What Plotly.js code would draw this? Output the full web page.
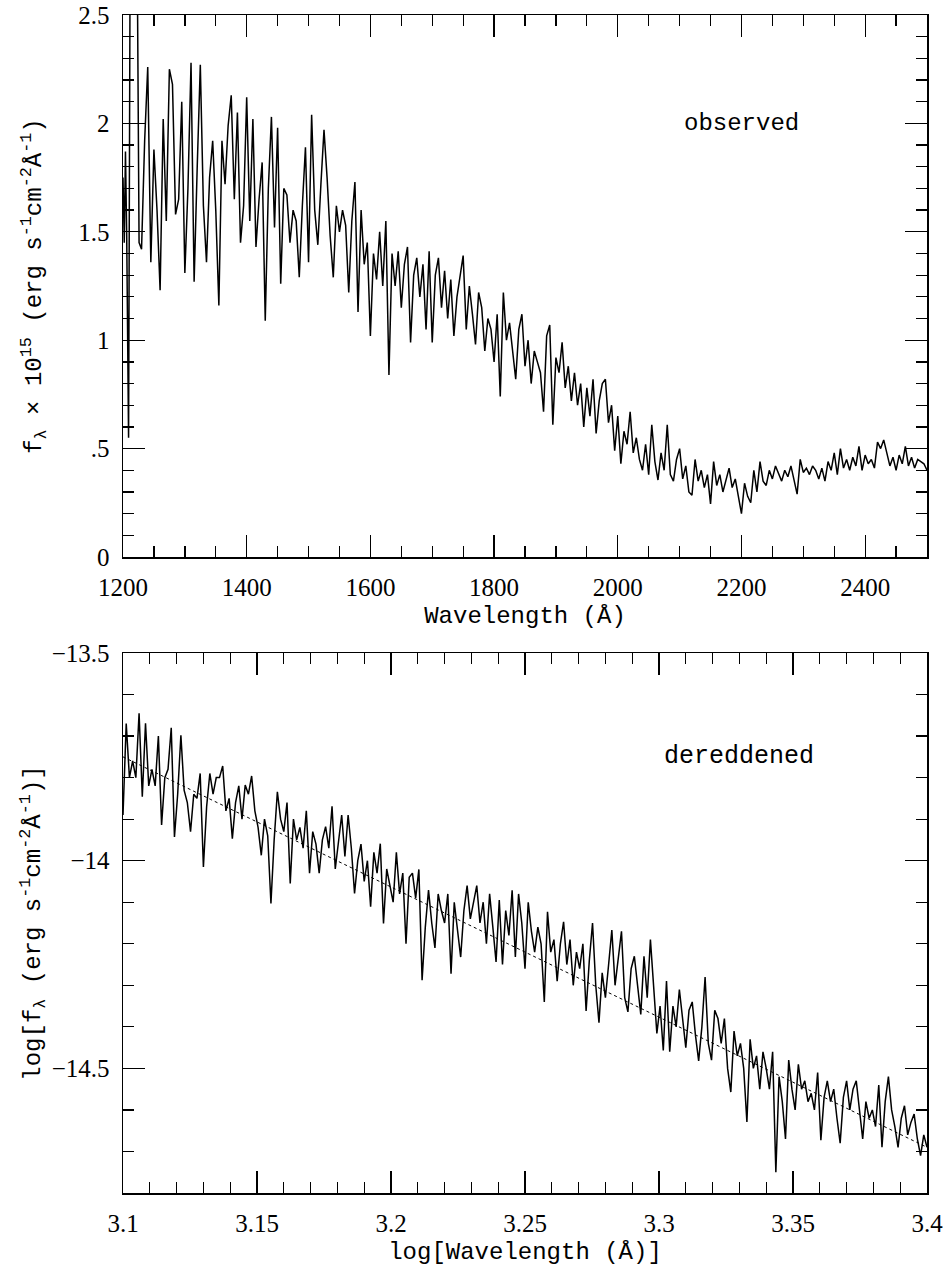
<!DOCTYPE html>
<html>
<head>
<meta charset="utf-8">
<script src="https://cdn.plot.ly/plotly-3.0.1.min.js"></script>
<style>html,body{margin:0;padding:0;background:#fff;}#chart{width:948px;height:1267px;}</style>
</head>
<body>
<div id="chart"></div>
<script>
// ---------- Observed spectrum (top panel) ----------
// Lyman-alpha region, explicit wavelengths (Å)
const lyaWave = [1200, 1202, 1204, 1206, 1209, 1212, 1222, 1226];
const lyaFlux = [1.75, 1.45, 1.87, 1.48, 0.55, 3.2, 3.2, 1.45];
// Remaining spectrum sampled every 5 Å from 1230 Å to 2500 Å
const obsStart = 1230, obsStep = 5;
const obsFlux = [
  1.42, 1.92, 2.26, 1.36, 1.88, 1.60, 1.23, 2.02, 1.55, 2.25,
  2.18, 1.58, 1.65, 2.10, 1.31, 1.70, 2.28, 1.27, 1.80, 2.27,
  1.62, 1.36, 1.75, 1.92, 1.60, 1.16, 1.92, 1.72, 1.99, 2.13,
  1.65, 2.05, 1.45, 1.62, 2.12, 1.55, 2.02, 1.43, 1.65, 1.82,
  1.09, 1.70, 2.03, 1.52, 1.98, 1.26, 1.70, 1.67, 1.45, 1.60,
  1.55, 1.29, 1.62, 1.89, 1.36, 2.04, 1.60, 1.44, 1.72, 1.97,
  1.75, 1.48, 1.29, 1.62, 1.50, 1.60, 1.53, 1.22, 1.55, 1.73,
  1.13, 1.60, 1.35, 1.45, 1.02, 1.40, 1.28, 1.50, 1.25, 1.55,
  0.84, 1.40, 1.25, 1.41, 1.15, 1.35, 1.43, 0.99, 1.30, 1.38,
  1.20, 1.35, 1.05, 1.41, 0.99, 1.30, 1.38, 1.15, 1.32, 1.10,
  1.28, 1.02, 1.20, 1.30, 1.39, 1.05, 1.25, 1.12, 0.98, 1.22,
  1.15, 0.95, 1.10, 1.05, 0.90, 1.12, 0.74, 1.22, 1.00, 1.08,
  0.95, 0.82, 1.05, 1.12, 0.88, 1.00, 0.80, 0.95, 0.90, 0.85,
  0.67, 1.02, 1.07, 0.61, 0.92, 0.85, 0.99, 0.78, 0.88, 0.72,
  0.85, 0.70, 0.80, 0.60, 0.78, 0.65, 0.82, 0.57, 0.72, 0.80,
  0.82, 0.62, 0.70, 0.49, 0.65, 0.43, 0.58, 0.52, 0.67, 0.48,
  0.55, 0.45, 0.40, 0.52, 0.38, 0.61, 0.44, 0.355, 0.48, 0.40,
  0.61, 0.38, 0.35, 0.45, 0.50, 0.36, 0.42, 0.30, 0.285, 0.45,
  0.35, 0.40, 0.32, 0.38, 0.245, 0.44, 0.33, 0.38, 0.30, 0.36,
  0.41, 0.32, 0.36, 0.28, 0.20, 0.34, 0.28, 0.25, 0.40, 0.30,
  0.44, 0.35, 0.33, 0.40, 0.36, 0.42, 0.38, 0.35, 0.40, 0.37,
  0.42, 0.36, 0.29, 0.45, 0.39, 0.41, 0.38, 0.42, 0.40, 0.36,
  0.41, 0.35, 0.44, 0.40, 0.48, 0.38, 0.50, 0.41, 0.45, 0.40,
  0.46, 0.42, 0.51, 0.40, 0.47, 0.43, 0.45, 0.41, 0.53, 0.50,
  0.54, 0.48, 0.42, 0.46, 0.40, 0.47, 0.43, 0.51, 0.42, 0.46,
  0.41, 0.45, 0.44, 0.43, 0.40
];
const obsWave = obsFlux.map((_, i) => obsStart + i * obsStep);

// ---------- Dereddened spectrum (bottom panel) ----------
const logStart = 3.1, logStep = 0.0012;
const logFlux = [
  -13.89, -13.67, -13.80, -13.76, -13.80, -13.645, -13.846, -13.669, -13.82, -13.78,
  -13.82, -13.70, -13.914, -13.80, -13.78, -13.68, -13.943, -13.84, -13.698, -13.83,
  -13.86, -13.93, -13.84, -13.85, -13.79, -14.015, -13.87, -13.79, -13.84, -13.80,
  -13.80, -13.772, -13.88, -13.85, -13.947, -13.86, -13.82, -13.90, -13.818, -13.84,
  -13.796, -13.88, -13.92, -13.987, -13.90, -13.94, -14.103, -13.95, -13.834, -13.90,
  -13.93, -13.86, -14.055, -13.90, -13.95, -13.92, -13.97, -13.88, -14.03, -13.93,
  -13.96, -14.03, -13.95, -13.918, -13.97, -13.869, -14.02, -13.95, -13.89, -13.99,
  -13.89, -13.97, -14.079, -14.00, -13.96, -14.05, -14.00, -14.111, -13.98, -14.03,
  -13.959, -14.151, -14.02, -14.06, -14.10, -13.98, -14.08, -14.03, -14.20, -14.04,
  -14.03, -14.09, -14.021, -14.288, -14.16, -14.071, -14.15, -14.21, -14.08, -14.12,
  -14.15, -14.08, -14.272, -14.10, -14.16, -14.232, -14.12, -14.06, -14.14, -14.10,
  -14.06, -14.15, -14.10, -14.20, -14.08, -14.16, -14.244, -14.095, -14.25, -14.12,
  -14.18, -14.071, -14.232, -14.08, -14.15, -14.26, -14.10, -14.17, -14.22, -14.16,
  -14.20, -14.34, -14.123, -14.22, -14.19, -14.29, -14.20, -14.147, -14.25, -14.19,
  -14.30, -14.22, -14.26, -14.20, -14.362, -14.24, -14.15, -14.30, -14.39, -14.27,
  -14.33, -14.25, -14.167, -14.30, -14.24, -14.17, -14.33, -14.364, -14.26, -14.23,
  -14.30, -14.37, -14.23, -14.33, -14.19, -14.30, -14.416, -14.35, -14.457, -14.29,
  -14.46, -14.35, -14.40, -14.31, -14.38, -14.45, -14.36, -14.34, -14.42, -14.482,
  -14.40, -14.28, -14.44, -14.48, -14.36, -14.38, -14.44, -14.38, -14.50, -14.557,
  -14.41, -14.47, -14.44, -14.50, -14.629, -14.43, -14.50, -14.47, -14.55, -14.46,
  -14.50, -14.55, -14.46, -14.75, -14.52, -14.58, -14.67, -14.48, -14.55, -14.60,
  -14.49, -14.55, -14.53, -14.58, -14.56, -14.60, -14.51, -14.673, -14.57, -14.53,
  -14.58, -14.55, -14.62, -14.68, -14.57, -14.53, -14.60, -14.55, -14.53, -14.60,
  -14.67, -14.58, -14.62, -14.60, -14.64, -14.54, -14.69, -14.58, -14.52, -14.60,
  -14.64, -14.69, -14.62, -14.59, -14.66, -14.63, -14.61, -14.67, -14.71, -14.66,
  -14.69
];
const logWave = logFlux.map((_, i) => +(logStart + i * logStep).toFixed(4));

// Power-law fit (dotted line) end points
const fitLogWave = [3.1, 3.4];
const fitLogFlux = [-13.75, -14.69];

// Tick labels
const topYTickVals = [0, 0.5, 1, 1.5, 2, 2.5];
const topYTickText = ['0', '.5', '1', '1.5', '2', '2.5'];

const tickFont = {family: '"Liberation Serif", "DejaVu Serif", serif', size: 25, color: '#000'};
const titleFont = {family: '"Liberation Mono", "DejaVu Sans Mono", monospace', size: 24, color: '#000'};

function axisBase(extra) {
  return Object.assign({
    showline: true, linecolor: '#000', linewidth: 1.5, mirror: 'ticks',
    ticks: 'inside', ticklen: 22, tickwidth: 1.3, tickcolor: '#000',
    showgrid: false, zeroline: false, tickfont: tickFont,
    ticklabelstandoff: 7
  }, extra);
}

const traces = [
  {x: lyaWave.concat(obsWave), y: lyaFlux.concat(obsFlux), type: 'scatter', mode: 'lines',
   line: {color: '#000', width: 1.5}, xaxis: 'x', yaxis: 'y', hoverinfo: 'skip'},
  {x: logWave, y: logFlux, type: 'scatter', mode: 'lines',
   line: {color: '#000', width: 1.5}, xaxis: 'x2', yaxis: 'y2', hoverinfo: 'skip'},
  {x: fitLogWave, y: fitLogFlux, type: 'scatter', mode: 'lines',
   line: {color: '#000', width: 1, dash: 'dot'}, xaxis: 'x2', yaxis: 'y2', hoverinfo: 'skip'}
];

const layout = {
  width: 948, height: 1267,
  margin: {l: 0, r: 0, t: 0, b: 0},
  paper_bgcolor: '#fff', plot_bgcolor: '#fff',
  showlegend: false,
  font: {family: '"Liberation Serif", serif', size: 25, color: '#000'},
  xaxis: axisBase({
    domain: [123/948, 927/948], anchor: 'y', range: [1200, 2500],
    tickmode: 'linear', tick0: 1200, dtick: 200,
    minor: {dtick: 50, ticklen: 11, tickcolor: '#000', tickwidth: 1.3, ticks: 'inside', showgrid: false},
    title: {text: 'Wavelength (Å)', font: titleFont, standoff: 6}
  }),
  yaxis: axisBase({
    domain: [1 - 557/1267, 1 - 15/1267], anchor: 'x', range: [0, 2.5],
    tickmode: 'array', tickvals: topYTickVals, ticktext: topYTickText,
    minor: {dtick: 0.1, tick0: 0, ticklen: 11, tickcolor: '#000', tickwidth: 1.3, ticks: 'inside', showgrid: false},
    title: {text: 'f<sub>λ</sub> × 10<sup>15</sup> (erg s<sup>-1</sup>cm<sup>-2</sup>Å<sup>-1</sup>)', font: titleFont, standoff: 30}
  }),
  xaxis2: axisBase({
    domain: [123/948, 927/948], anchor: 'y2', range: [3.1, 3.4],
    tickmode: 'linear', tick0: 3.1, dtick: 0.05,
    minor: {dtick: 0.01, tick0: 3.1, ticklen: 11, tickcolor: '#000', tickwidth: 1.3, ticks: 'inside', showgrid: false},
    title: {text: 'log[Wavelength (Å)]', font: titleFont, standoff: 6}
  }),
  yaxis2: axisBase({
    domain: [1 - 1193/1267, 1 - 653/1267], anchor: 'x2', range: [-14.8, -13.5],
    tickmode: 'linear', tick0: -14.5, dtick: 0.5,
    minor: {dtick: 0.1, tick0: -14.5, ticklen: 11, tickcolor: '#000', tickwidth: 1.3, ticks: 'inside', showgrid: false},
    title: {text: 'log[f<sub>λ</sub> (erg s<sup>-1</sup>cm<sup>-2</sup>Å<sup>-1</sup>)]', font: titleFont, standoff: 4}
  }),
  annotations: [
    {x: 2200, y: 2.0, xref: 'x', yref: 'y', text: 'observed', showarrow: false,
     font: {family: '"Liberation Mono", monospace', size: 24, color: '#000'}},
    {x: 3.33, y: -13.75, xref: 'x2', yref: 'y2', text: 'dereddened', showarrow: false,
     font: {family: '"Liberation Mono", monospace', size: 25, color: '#000'}}
  ]
};

Plotly.newPlot('chart', traces, layout, {staticPlot: true, displayModeBar: false});
</script>
</body>
</html>
